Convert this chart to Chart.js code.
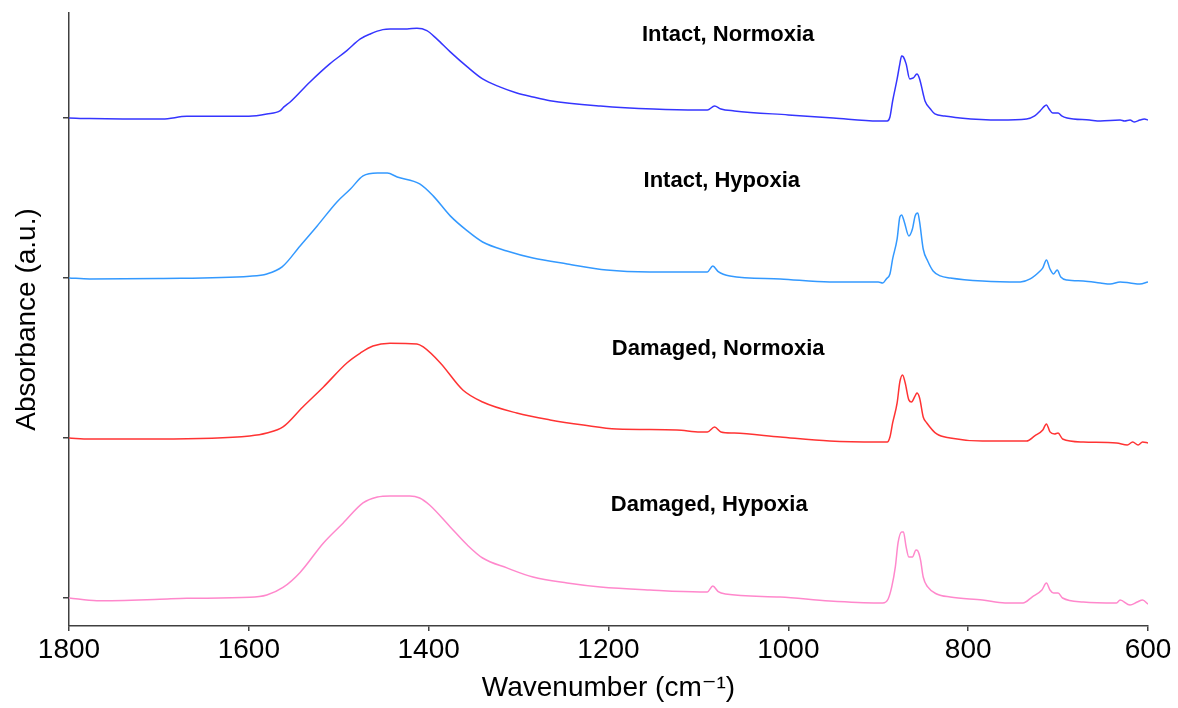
<!DOCTYPE html>
<html><head><meta charset="utf-8">
<script src="https://cdn.jsdelivr.net/npm/chart.js@4"></script>
<style>html,body{margin:0;padding:0;background:#fff}</style>
</head><body>
<canvas id="c" width="1178" height="708"></canvas>
<script>
// ---- data ----
const seriesNames = ['Intact, Normoxia', 'Intact, Hypoxia', 'Damaged, Normoxia', 'Damaged, Hypoxia'];
const seriesOffsets = [3, 2, 1, 0];
const xTickValues = [1800, 1600, 1400, 1200, 1000, 800, 600];
const yTickValues = [0, 1, 2, 3];

const intactNormoxiaWn = [1800,1777,1740,1696,1669,1600,1580,1565,1561,1554,1532,1510,1491,1476,1465,1451,1443,1424,1413,1402,1391,1376,1357,1340,1321,1302,1284,1265,1209,1150,1100,1090,1082,1075,1060,1000,950,900,890,887,884,879,876,874,872,869,865,861,857,854,850,848,842,837,826,809,765,735,726,720,716,713,710,706,700,696,690,665,653,631,626,620,615,609,604,600];
const intactNormoxiaAbs = [0,-0.004,-0.006,-0.006,0.01,0.011,0.025,0.046,0.069,0.1,0.225,0.338,0.421,0.494,0.525,0.552,0.556,0.556,0.561,0.546,0.494,0.413,0.319,0.244,0.194,0.156,0.131,0.108,0.075,0.056,0.05,0.05,0.075,0.056,0.044,0.019,0,-0.019,-0.019,0.006,0.106,0.244,0.338,0.388,0.381,0.338,0.244,0.25,0.275,0.244,0.15,0.106,0.056,0.025,0.013,0,-0.013,-0.006,0.013,0.044,0.069,0.081,0.056,0.031,0.031,0.013,0,-0.013,-0.019,-0.013,-0.019,-0.013,-0.025,-0.013,-0.006,-0.013];

const intactHypoxiaWn = [1800,1777,1700,1599,1580,1563,1543,1524,1502,1487,1473,1457,1446,1435,1410,1395,1376,1357,1340,1313,1284,1246,1202,1154,1098,1090,1084,1078,1065,1009,954,900,895,891,887,884,879,876,874,871,866,862,859,856,854,850,845,839,831,820,784,742,731,720,717,713,709,705,701,697,690,672,653,642,631,620,609,600];
const intactHypoxiaAbs = [0,-0.006,-0.003,0.011,0.025,0.069,0.2,0.325,0.475,0.556,0.638,0.656,0.656,0.631,0.588,0.513,0.388,0.294,0.225,0.169,0.125,0.088,0.05,0.038,0.038,0.038,0.075,0.04,0.013,-0.006,-0.025,-0.025,-0.031,-0.006,0.025,0.119,0.244,0.381,0.394,0.35,0.263,0.306,0.388,0.406,0.35,0.181,0.106,0.044,0.013,0,-0.019,-0.025,-0.006,0.044,0.063,0.113,0.056,0.025,0.05,0.006,-0.013,-0.019,-0.031,-0.038,-0.025,-0.031,-0.038,-0.025];

const damagedNormoxiaWn = [1800,1777,1700,1599,1580,1562,1540,1517,1491,1476,1462,1443,1413,1406,1387,1362,1340,1302,1265,1228,1191,1124,1098,1090,1082,1075,1060,1009,954,900,890,887,884,879,876,873,870,866,863,859,857,854,850,846,835,820,784,735,726,717,713,709,704,700,695,672,635,623,617,611,606,600];
const damagedNormoxiaAbs = [0,-0.006,-0.006,0.013,0.031,0.069,0.194,0.319,0.469,0.531,0.575,0.592,0.588,0.569,0.469,0.3,0.225,0.156,0.113,0.081,0.056,0.05,0.038,0.038,0.069,0.038,0.031,0.006,-0.019,-0.025,-0.025,0.006,0.094,0.219,0.35,0.394,0.344,0.238,0.225,0.263,0.281,0.25,0.131,0.094,0.025,0,-0.019,-0.019,0.013,0.05,0.088,0.038,0.025,0.031,-0.006,-0.025,-0.031,-0.044,-0.025,-0.044,-0.025,-0.031];

const damagedHypoxiaWn = [1800,1769,1699,1669,1599,1580,1562,1543,1517,1495,1473,1457,1443,1421,1410,1399,1376,1357,1340,1313,1284,1246,1209,1154,1098,1090,1084,1078,1070,1009,954,900,895,889,885,881,878,874,872,869,866,862,858,856,853,850,845,835,820,784,759,739,729,718,713,709,705,700,695,672,635,631,620,612,606,600];
const damagedHypoxiaAbs = [0,-0.017,-0.008,-0.002,0.004,0.019,0.066,0.16,0.344,0.469,0.594,0.631,0.638,0.638,0.625,0.581,0.444,0.331,0.25,0.188,0.131,0.094,0.069,0.05,0.038,0.038,0.075,0.04,0.025,0.006,-0.019,-0.031,-0.031,-0.006,0.069,0.194,0.344,0.413,0.413,0.319,0.256,0.256,0.3,0.294,0.238,0.131,0.069,0.025,0.006,-0.013,-0.031,-0.031,0.006,0.05,0.094,0.05,0.031,0.031,0,-0.025,-0.031,-0.013,-0.044,-0.025,-0.013,-0.038];

// ---- build ----
const wnSets = [intactNormoxiaWn, intactHypoxiaWn, damagedNormoxiaWn, damagedHypoxiaWn];
const absSets = [intactNormoxiaAbs, intactHypoxiaAbs, damagedNormoxiaAbs, damagedHypoxiaAbs];
const lineColors = ['#3535ff', '#3399ff', '#ff3333', '#ff88cc'];

const datasets = seriesNames.map((name, i) => ({
  label: name,
  data: wnSets[i].map((w, k) => ({ x: w, y: absSets[i][k] + seriesOffsets[i] })),
  borderColor: lineColors[i],
  borderWidth: 1.5,
  pointRadius: 0,
  cubicInterpolationMode: 'monotone',
  fill: false
}));

const FONT = "Arial, 'Liberation Sans', 'DejaVu Sans', sans-serif";

const seriesLabelPlugin = {
  id: 'seriesLabels',
  afterDatasetsDraw(chart, args, opts) {
    const { ctx } = chart;
    const xs = chart.scales.x, ys = chart.scales.y;
    ctx.save();
    ctx.font = opts.font;
    ctx.fillStyle = opts.color;
    ctx.textAlign = 'center';
    ctx.textBaseline = 'middle';
    opts.anchors.forEach((a, i) => {
      ctx.fillText(seriesNames[i], xs.getPixelForValue(a.x), ys.getPixelForValue(a.y));
    });
    ctx.restore();
  }
};

new Chart(document.getElementById('c'), {
  type: 'line',
  data: { datasets },
  plugins: [seriesLabelPlugin],
  options: {
    responsive: false,
    animation: false,
    devicePixelRatio: 1,
    layout: { padding: { top: 13, right: 30, left: 0, bottom: 0 } },
    plugins: {
      legend: { display: false },
      tooltip: { enabled: false },
      seriesLabels: {
        font: "bold 22px " + FONT,
        color: '#000',
        anchors: [
          { x: 1067, y: 3.519 },
          { x: 1074, y: 2.606 },
          { x: 1078, y: 1.556 },
          { x: 1088, y: 0.581 }
        ]
      }
    },
    scales: {
      x: {
        type: 'linear',
        reverse: true,
        min: 600,
        max: 1800,
        afterBuildTicks: s => { s.ticks = xTickValues.map(v => ({ value: v })); },
        afterFit: s => { s.height = 82; },
        grid: { drawOnChartArea: false, drawTicks: true, tickLength: 5, color: '#404040', lineWidth: 1.5 },
        border: { display: true, color: '#404040', width: 1.5 },
        ticks: { font: { family: FONT, size: 28 }, color: '#000', padding: 2, maxRotation: 0, autoSkip: false, callback: v => String(v) },
        title: { display: true, text: 'Wavenumber (cm\u207B\u00B9)', font: { family: FONT, size: 28 }, color: '#000', padding: { top: 0, bottom: 3 } }
      },
      y: {
        type: 'linear',
        min: -0.175,
        max: 3.656,
        afterBuildTicks: s => { s.ticks = yTickValues.map(v => ({ value: v })); },
        afterFit: s => { s.width = 69; },
        grid: { drawOnChartArea: false, drawTicks: true, tickLength: 6, color: '#404040', lineWidth: 1.5 },
        border: { display: true, color: '#404040', width: 1.5 },
        ticks: { display: false },
        title: { display: true, text: 'Absorbance (a.u.)', font: { family: FONT, size: 28 }, color: '#000', padding: { top: 10, bottom: 0 } }
      }
    }
  }
});
</script>
</body></html>
